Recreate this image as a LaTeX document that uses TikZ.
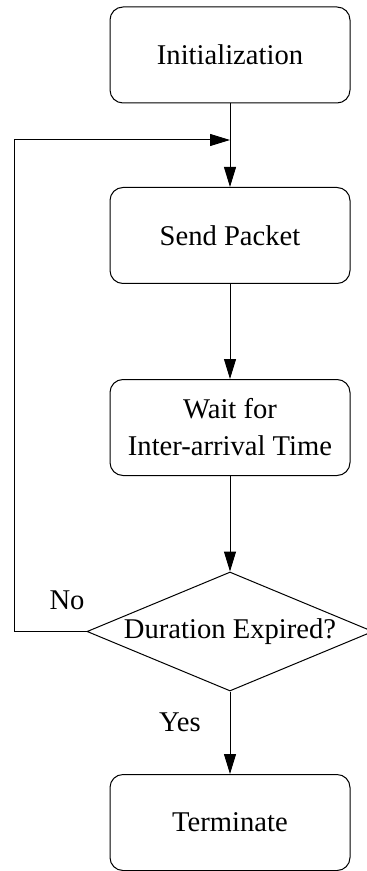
\documentclass[tikz,border=0pt]{standalone}
\usepackage{fontspec}
\setmainfont{Liberation Serif}
\usetikzlibrary{shapes.geometric,arrows.meta}
\begin{document}
\begin{tikzpicture}[
      x=0.5pt,y=-0.5pt,
      font=\fontsize{14.3}{18.5}\selectfont,
      stage/.style={draw,line width=0.5pt,rounded corners=6.5pt,minimum width=120pt,minimum height=48pt,align=center},
      test/.style={draw,line width=0.5pt,diamond,aspect=2.4,inner sep=0pt,minimum width=143pt,minimum height=59.5pt},
      trans/.style={line width=0.5pt,-{Triangle[length=10pt,width=6pt]}}
    ]
    \useasboundingbox (0,0) rectangle (366,871);
    % Draw the stages.
    \node[stage] (init) at (230,55)    {Initialization};
    \node[stage] (send) at (230,235.5) {Send Packet};
    \node[stage] (wait) at (230,427.5) {Wait for\\Inter-arrival Time};
    \node[test]  (dur)  at (230,631.5) {Duration Expired?};
    \node[stage] (term) at (230,822.5) {Terminate};
    % Draw the labels.
    \node (no)  at (67,600)  {No};
    \node (yes) at (180,722) {Yes};
    % Draw the transitions.
    \coordinate (join) at (230,140);
    \coordinate (loop) at (14,140);
    \draw[trans] (init) -- (send);
    \draw[trans] (send) -- (wait);
    \draw[trans] (wait) -- (dur);
    \draw[trans] (dur) -- (term);
    \draw[trans] (dur.west) -| (loop) -- (join);
    \end{tikzpicture}
\end{document}
